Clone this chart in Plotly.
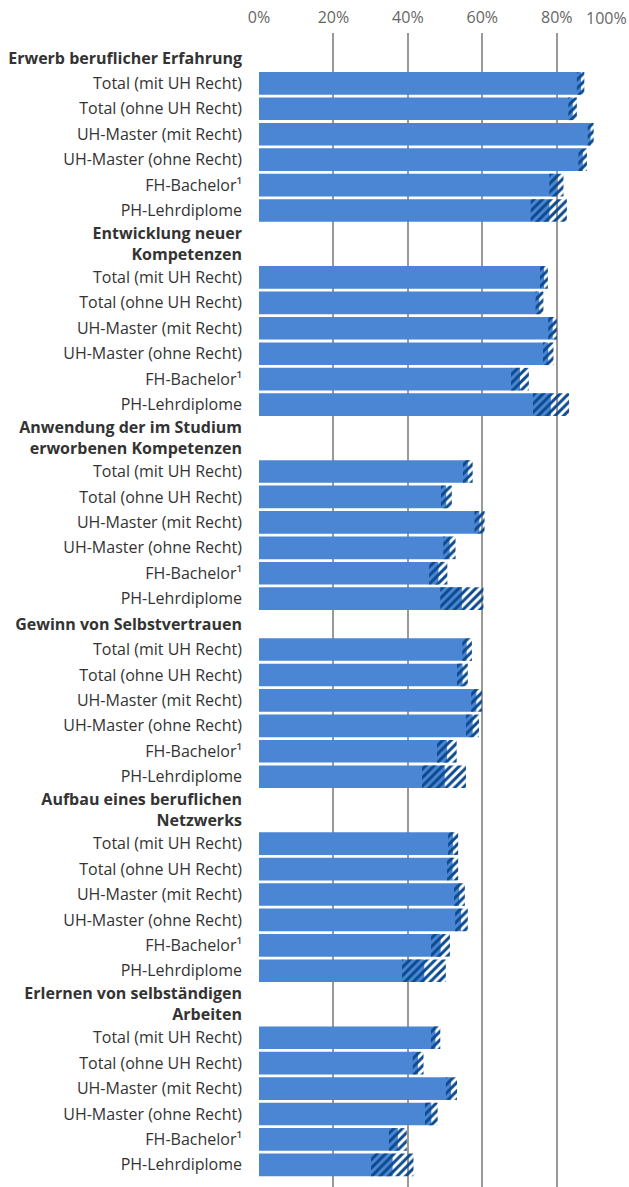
import plotly.graph_objects as go

# ---- data ----
groups = [
    "Erwerb beruflicher Erfahrung",
    "Entwicklung neuer<br>Kompetenzen",
    "Anwendung der im Studium<br>erworbenen Kompetenzen",
    "Gewinn von Selbstvertrauen",
    "Aufbau eines beruflichen<br>Netzwerks",
    "Erlernen von selbständigen<br>Arbeiten",
]
subgroups = [
    "Total (mit UH Recht)",
    "Total (ohne UH Recht)",
    "UH-Master (mit Recht)",
    "UH-Master (ohne Recht)",
    "FH-Bachelor¹",
    "PH-Lehrdiplome",
]
values = [
    [86.5, 84.3, 89.1, 87.0, 80.0, 78.0],
    [76.6, 75.3, 78.9, 77.7, 70.1, 78.4],
    [56.1, 50.3, 59.2, 51.2, 48.2, 54.5],
    [55.8, 54.7, 58.4, 57.4, 50.5, 49.9],
    [52.1, 52.0, 53.8, 54.3, 48.8, 44.4],
    [47.4, 42.7, 51.6, 46.3, 37.3, 35.9],
]
lower = [
    [85.4, 83.1, 88.3, 85.8, 78.0, 73.0],
    [75.5, 74.3, 77.7, 76.3, 67.7, 73.6],
    [54.8, 48.9, 57.9, 49.5, 45.7, 48.7],
    [54.6, 53.2, 57.0, 55.6, 47.8, 43.8],
    [50.8, 50.5, 52.4, 52.7, 46.2, 38.4],
    [46.2, 41.3, 50.2, 44.6, 34.9, 30.1],
]
upper = [
    [87.4, 85.4, 89.9, 88.1, 81.8, 82.7],
    [77.6, 76.4, 80.0, 79.1, 72.5, 83.3],
    [57.4, 51.8, 60.6, 52.8, 50.6, 60.3],
    [57.2, 56.1, 59.9, 59.1, 53.1, 55.6],
    [53.5, 53.5, 55.3, 56.1, 51.3, 50.2],
    [48.7, 44.2, 53.2, 48.0, 39.7, 41.5],
]
x_ticks = [0, 20, 40, 60, 80]
x_tick_labels = ["0%", "20%", "40%", "60%", "80%"]

# ---- layout of rows (header slots taller when wrapped) ----
BAR_COLOR = "#4a86d4"
HATCH_COLOR = "#0c4a8e"
TWO_LINE_SLOT = 1.63
FONT = "Open Sans"

tickvals, ticktext = [], []
bar_y, bar_x, ci_base, ci_len = [], [], [], []
cursor = 0.0
for g, name in enumerate(groups):
    h = 1.0 if "<br>" not in name else TWO_LINE_SLOT
    tickvals.append(cursor + h / 2)
    ticktext.append("<b>" + name + "</b>")
    cursor += h
    for i, sub in enumerate(subgroups):
        yc = cursor + 0.5
        tickvals.append(yc)
        ticktext.append(sub)
        bar_y.append(yc)
        bar_x.append(values[g][i])
        ci_base.append(lower[g][i])
        ci_len.append(upper[g][i] - lower[g][i])
        cursor += 1.0

fig = go.Figure()
fig.add_trace(go.Bar(
    x=bar_x, y=bar_y, orientation="h", width=0.89,
    marker=dict(color=BAR_COLOR, line=dict(width=0)),
    hoverinfo="x", showlegend=False,
))
fig.add_trace(go.Bar(
    x=ci_len, y=bar_y, base=ci_base, orientation="h", width=0.89,
    marker=dict(
        color="rgba(0,0,0,0)", line=dict(width=0),
        pattern=dict(shape="/", fgcolor=HATCH_COLOR, bgcolor="rgba(0,0,0,0)",
                     fillmode="replace", size=6, solidity=0.5),
    ),
    hoverinfo="skip", showlegend=False,
))

fig.update_layout(
    width=629, height=1187,
    margin=dict(l=259, r=0, t=33, b=0),
    barmode="overlay",
    plot_bgcolor="white", paper_bgcolor="white",
    font=dict(family=FONT, size=16, color="#333333"),
    xaxis=dict(
        side="top", range=[0, 99.4], tickvals=x_ticks, ticktext=x_tick_labels,
        showgrid=True, gridcolor="#999999", gridwidth=1.5, zeroline=False,
        ticks="outside", ticklen=3, tickcolor="white",
        tickfont=dict(color="#666666", size=16), fixedrange=True,
    ),
    yaxis=dict(
        range=[cursor + 0.37, -0.48], tickvals=tickvals, ticktext=ticktext,
        showgrid=False, zeroline=False, ticks="", ticklabelstandoff=16,
        tickfont=dict(color="#333333", size=16), fixedrange=True,
    ),
    annotations=[dict(
        text="100%", x=1, xref="paper", xanchor="right",
        y=1, yref="paper", yanchor="bottom", yshift=2, showarrow=False,
        font=dict(color="#666666", size=16, family=FONT),
    )],
)

fig.write_html(
    "out.html",
    config={"displayModeBar": False},
    post_script="document.body.style.margin='0';document.body.style.overflow='hidden';",
)
